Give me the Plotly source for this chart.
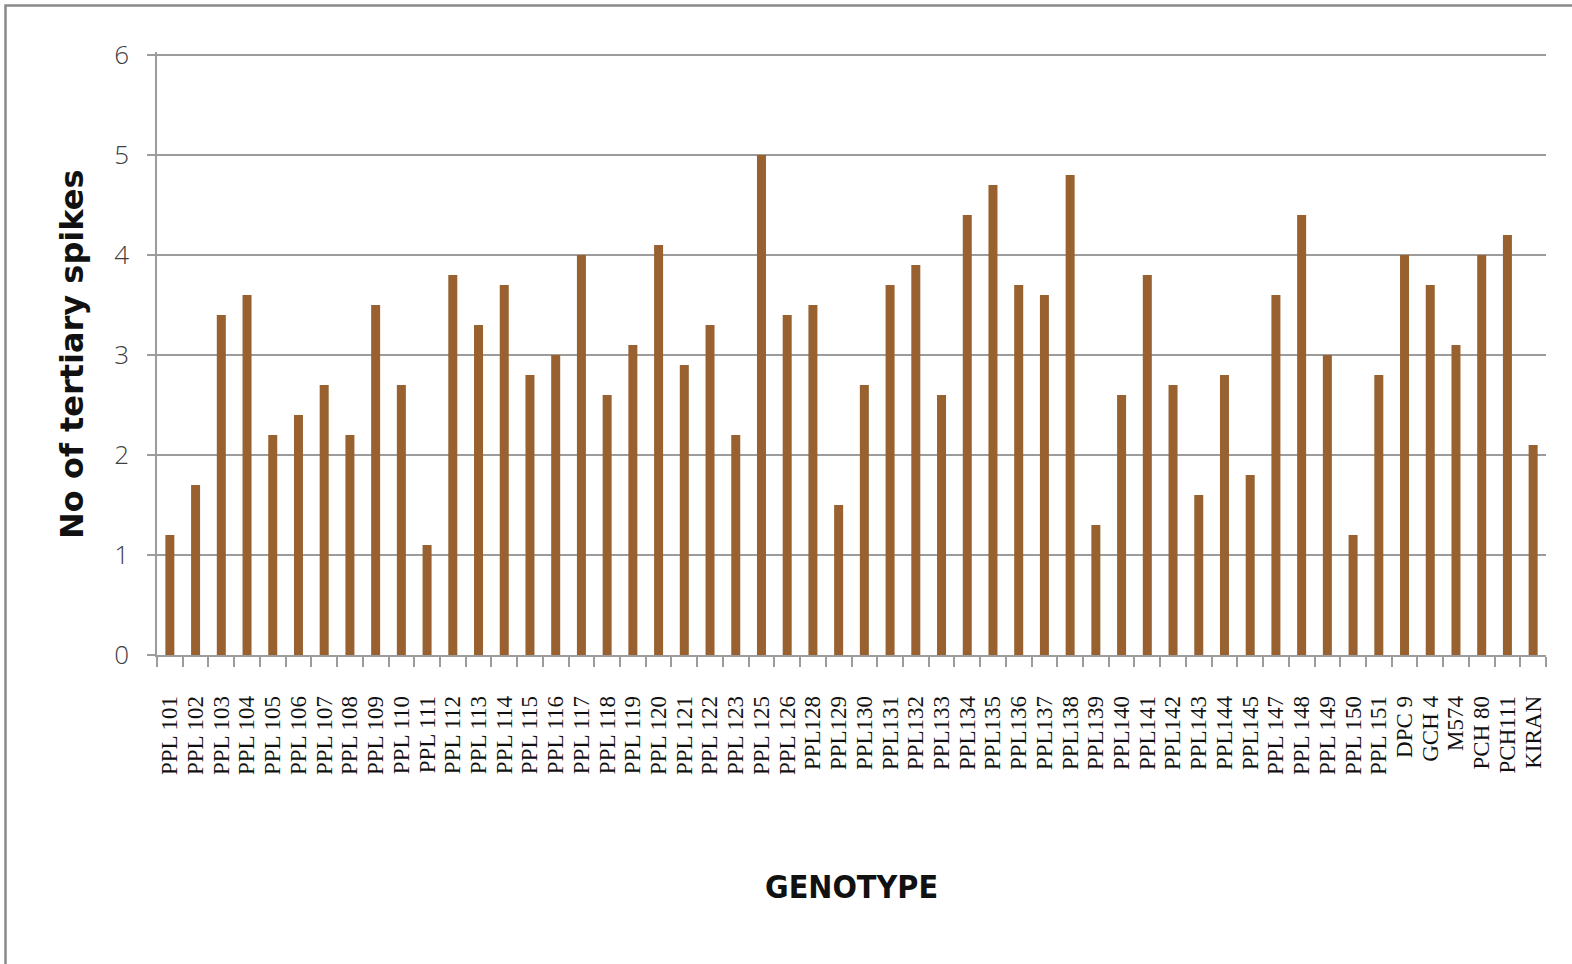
import plotly.graph_objects as go

# Genotypes along the x axis
genotypes = (
    [f"PPL {n}" for n in range(101, 124)]
    + ["PPL 125", "PPL 126"]
    + [f"PPL{n}" for n in [128, 129, 130, 131, 132, 133, 134, 135, 136, 137,
                           138, 139, 140, 141, 142, 143, 144, 145]]
    + ["PPL 147", "PPL 148", "PPL 149", "PPL 150", "PPL 151"]
    + ["DPC 9", "GCH 4", "M574", "PCH 80", "PCH111", "KIRAN"]
)

# Number of tertiary spikes per genotype
tertiary_spikes = [
    1.2, 1.7, 3.4, 3.6, 2.2, 2.4, 2.7, 2.2, 3.5, 2.7,
    1.1, 3.8, 3.3, 3.7, 2.8, 3.0, 4.0, 2.6, 3.1, 4.1,
    2.9, 3.3, 2.2, 5.0, 3.4, 3.5, 1.5, 2.7, 3.7, 3.9,
    2.6, 4.4, 4.7, 3.7, 3.6, 4.8, 1.3, 2.6, 3.8, 2.7,
    1.6, 2.8, 1.8, 3.6, 4.4, 3.0, 1.2, 2.8, 4.0, 3.7,
    3.1, 4.0, 4.2, 2.1,
]

y_ticks = [0, 1, 2, 3, 4, 5, 6]

W, H = 1572, 964
M_LEFT, M_RIGHT, M_TOP, M_BOTTOM = 157, 26, 52, 309
plot_w = W - M_LEFT - M_RIGHT
plot_h = H - M_TOP - M_BOTTOM

BAR = "#98612F"
GRID = "#9c9c9c"

fig = go.Figure(
    go.Bar(
        x=genotypes,
        y=tertiary_spikes,
        width=0.35,
        marker=dict(color=BAR, line=dict(width=0)),
        hovertemplate="%{x}: %{y}<extra></extra>",
    )
)

fig.update_layout(
    width=W,
    height=H,
    margin=dict(l=M_LEFT, r=M_RIGHT, t=M_TOP, b=M_BOTTOM, pad=0),
    paper_bgcolor="white",
    plot_bgcolor="white",
    showlegend=False,
    bargap=0.65,
)

fig.update_xaxes(
    type="category",
    tickmode="linear",
    tick0=0,
    dtick=1,
    tickangle=-90,
    tickson="boundaries",
    ticks="outside",
    ticklen=10,
    tickwidth=1.5,
    tickcolor=GRID,
    showline=True,
    linecolor=GRID,
    linewidth=1.5,
    showgrid=False,
    ticklabelstandoff=30,
    tickfont=dict(family="Liberation Serif, Times New Roman, serif", size=23, color="#111111"),
    automargin=False,
)

# Range runs a hair past 6 so the top gridline is kept
fig.update_yaxes(
    range=[0, 6.03],
    tickvals=y_ticks,
    ticks="outside",
    ticklen=8,
    tickwidth=1.5,
    tickcolor=GRID,
    showline=True,
    linecolor=GRID,
    linewidth=1.5,
    showgrid=True,
    gridcolor=GRID,
    gridwidth=1.5,
    zeroline=False,
    ticklabelstandoff=13,
    tickfont=dict(family="Open Sans, Lato, sans-serif", size=26, color="#404040", weight=300),
    automargin=False,
)

# Axis titles
fig.add_annotation(
    text="<b>No of tertiary spikes</b>",
    xref="paper", yref="paper",
    x=(72 - M_LEFT) / plot_w, y=(H - M_BOTTOM - 355) / plot_h,
    textangle=-90, showarrow=False,
    xanchor="center", yanchor="middle",
    font=dict(family="DejaVu Sans, Verdana, sans-serif", size=32, color="#111111"),
)
fig.add_annotation(
    text="<b>GENOTYPE</b>",
    xref="paper", yref="paper",
    x=0.5, y=(H - M_BOTTOM - 887) / plot_h,
    showarrow=False,
    xanchor="center", yanchor="middle",
    font=dict(family="DejaVu Sans Condensed, Liberation Sans Narrow, DejaVu Sans", size=32, color="#111111"),
)

# Outer frame
fig.add_shape(
    type="rect",
    xref="paper", yref="paper",
    x0=(5.5 - M_LEFT) / plot_w, x1=(W + 10 - M_LEFT) / plot_w,
    y0=(H - M_BOTTOM - (H + 10)) / plot_h, y1=(H - M_BOTTOM - 5.5) / plot_h,
    line=dict(color="#8a8a8a", width=2.5),
    fillcolor="rgba(0,0,0,0)",
    layer="above",
)

fig.write_html("out.html")
